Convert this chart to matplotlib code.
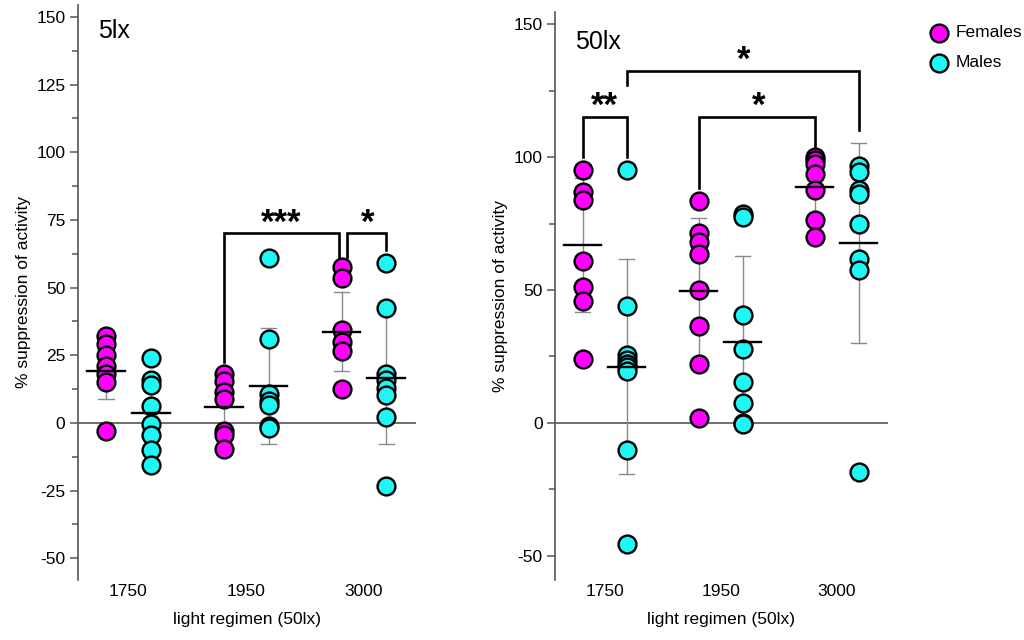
import numpy as np
import matplotlib
matplotlib.use("Agg")
import matplotlib.pyplot as plt

plt.rcParams['font.family'] = ['Liberation Sans', 'DejaVu Sans']
plt.rcParams['axes.unicode_minus'] = False

regimens = ["1750", "1950", "3000"]

# 5lx panel
f5 = [[32, 29, 25, 21, 18, 15, -3],
      [18, 15.5, 11.5, 9, -3, -4.5, -9.5],
      [57.5, 53.5, 34.5, 30, 26.5, 12.5]]
m5 = [[24, 16, 14, 6.3, -0.4, -4.4, -10, -15.5],
      [61, 31, 10.5, 8, 6.5, -1, -2],
      [59, 42.5, 18, 16, 13, 10.3, 2.3, -23.2]]
f5_mean = [19.3, 6.0, 33.7]
f5_sd = [10.6, 10.8, 14.5]
m5_mean = [3.8, 13.7, 16.7]
m5_sd = [13.7, 21.5, 24.6]

# 50lx panel
f50 = [[95, 87, 84, 61, 51, 46, 24],
       [83.5, 71.5, 68, 63.5, 50, 36.5, 22, 2],
       [100, 99, 97.5, 93.5, 87.5, 76.5, 70]]
m50 = [[95, 44, 25.5, 23.5, 22, 21, 19.5, -10, -45.5],
       [78.5, 77.5, 40.5, 28, 15.5, 7.5, 0, -0.5],
       [96.5, 94.5, 87.5, 86, 75, 61.5, 57.5, -18.5]]
f50_mean = [66.9, 49.7, 88.6]
f50_sd = [25.3, 27.4, 11.8]
m50_mean = [21.2, 30.6, 67.6]
m50_sd = [40.3, 32.2, 37.7]

FEM = '#ff00ff'
MAL = '#1ff5f2'
OFF = 0.19
MS = 165


def draw_group(ax, x, vals, mean, sd, color):
    ax.plot([x, x], [mean - sd, mean + sd], color='#8a8a8a', lw=1, zorder=2)
    for yy in (mean - sd, mean + sd):
        ax.plot([x - 0.065, x + 0.065], [yy, yy], color='#8a8a8a', lw=1, zorder=2)
    ax.scatter([x] * len(vals), vals, s=MS, color=color, edgecolor='black',
               linewidth=1.7, zorder=3)
    ax.plot([x - 0.16, x + 0.16], [mean, mean], color='black', lw=1.7, zorder=4)


def bracket(ax, x1, x2, yb1, yb2, ytop, label, tx=None):
    ax.plot([x1, x1, x2, x2], [yb1, ytop, ytop, yb2], color='black', lw=1.9,
            zorder=5, solid_joinstyle='miter')
    if tx is None:
        tx = (x1 + x2) / 2
    ax.text(tx, ytop + 0.4, label, ha='center', va='baseline', fontsize=25,
            fontweight='bold')


def setup(ax, ylim, major, minor, title, ty):
    ax.set_yticks(major)
    ax.set_yticks(minor, minor=True)
    ax.set_xlim(-0.43, 2.44)
    ax.set_ylim(*ylim)
    for s in ('top', 'right', 'bottom'):
        ax.spines[s].set_visible(False)
    ax.spines['left'].set_color('#555555')
    ax.spines['left'].set_linewidth(1.2)
    ax.axhline(0, color='#555555', lw=1.2, zorder=1)
    ax.tick_params(axis='y', which='major', length=6, width=1.1, color='#555555',
                   labelsize=12.5, pad=3)
    ax.tick_params(axis='y', which='minor', length=4, width=1.1, color='#555555')
    ax.set_xticks(range(3))
    ax.set_xticklabels(regimens)
    ax.tick_params(axis='x', length=0, labelsize=12.5, pad=3)
    ax.set_xlabel("light regimen (50lx)", fontsize=12.5, labelpad=9)
    ax.set_ylabel("% suppression of activity", fontsize=12.5, labelpad=4)
    ax.text(0.06, ty, title, transform=ax.transAxes, fontsize=18,
            va='top', ha='left')


fig = plt.figure(figsize=(10.24, 6.4), dpi=100)
ax1 = fig.add_axes([0.076, 0.094, 0.33, 0.898])
ax2 = fig.add_axes([0.542, 0.094, 0.325, 0.887])

setup(ax1, (-58, 154.4), np.arange(-50, 151, 25), np.arange(-50, 151, 12.5), "5lx", 0.975)
setup(ax2, (-59, 154.5), np.arange(-50, 151, 50), np.arange(-50, 151, 25), "50lx", 0.968)

for i in range(3):
    draw_group(ax1, i - OFF, f5[i], f5_mean[i], f5_sd[i], FEM)
    draw_group(ax1, i + OFF, m5[i], m5_mean[i], m5_sd[i], MAL)
    draw_group(ax2, i - OFF, f50[i], f50_mean[i], f50_sd[i], FEM)
    draw_group(ax2, i + OFF, m50[i], m50_mean[i], m50_sd[i], MAL)

bracket(ax1, 0.81, 1.79, 22.6, 61.4, 70, "***", tx=1.3)
bracket(ax1, 1.86, 2.19, 61.4, 63.9, 70, "*", tx=2.03)

bracket(ax2, -0.19, 0.19, 100.1, 100.1, 115.2, "**")
bracket(ax2, 0.81, 1.81, 88.2, 104.1, 115.2, "*", tx=1.33)
bracket(ax2, 0.19, 2.19, 127, 110, 132.4, "*", tx=1.2)

h1 = ax2.scatter([], [], s=MS, color=FEM, edgecolor='black', linewidth=1.7)
h2 = ax2.scatter([], [], s=MS, color=MAL, edgecolor='black', linewidth=1.7)
fig.legend([h1, h2], ["Females", "Males"], loc='upper right',
           bbox_to_anchor=(1.014, 0.985), frameon=False, fontsize=12.5,
           handlelength=1.0, handletextpad=0.5, labelspacing=0.85)

fig.savefig("out.png", dpi=100)
